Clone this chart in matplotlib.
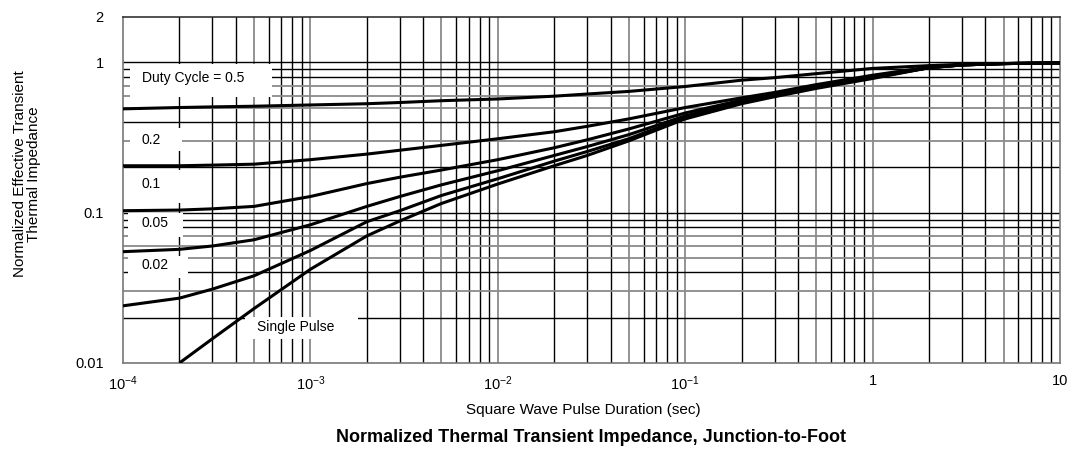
import matplotlib
matplotlib.use("Agg")
import matplotlib.pyplot as plt
from matplotlib.patches import Rectangle

plt.rcParams['font.family'] = ['Liberation Sans', 'DejaVu Sans']
plt.rcParams['mathtext.fontset'] = 'custom'
plt.rcParams['mathtext.rm'] = 'Liberation Sans'
plt.rcParams['mathtext.it'] = 'Liberation Sans:italic'

# ---- data ----
pulse_t = [1e-4, 2e-4, 3e-4, 5e-4, 1e-3, 2e-3, 3e-3, 5e-3, 1e-2, 2e-2, 3e-2, 5e-2,
           0.1, 0.2, 0.3, 0.5, 1, 2, 3, 5, 10]
z_d050 = [0.49, 0.50, 0.505, 0.51, 0.52, 0.53, 0.54, 0.555, 0.57, 0.595, 0.615, 0.64,
          0.69, 0.76, 0.79, 0.84, 0.91, 0.95, 0.97, 0.98, 0.99]
z_d020 = [0.205, 0.205, 0.207, 0.21, 0.225, 0.245, 0.26, 0.28, 0.31, 0.345, 0.375, 0.42,
          0.50, 0.58, 0.63, 0.71, 0.82, 0.93, 0.96, 0.98, 0.99]
z_d010 = [0.103, 0.104, 0.106, 0.11, 0.128, 0.156, 0.172, 0.192, 0.225, 0.27, 0.305, 0.36,
          0.46, 0.56, 0.62, 0.70, 0.80, 0.92, 0.96, 0.98, 0.99]
z_d005 = [0.055, 0.057, 0.06, 0.066, 0.083, 0.11, 0.128, 0.153, 0.19, 0.24, 0.275, 0.33,
          0.44, 0.55, 0.61, 0.69, 0.80, 0.92, 0.96, 0.98, 0.99]
z_d002 = [0.024, 0.027, 0.031, 0.038, 0.056, 0.087, 0.103, 0.13, 0.168, 0.22, 0.255, 0.31,
          0.43, 0.54, 0.60, 0.68, 0.79, 0.92, 0.96, 0.98, 0.99]
single_t = [2e-4, 3e-4, 5e-4, 1e-3, 2e-3, 3e-3, 5e-3, 1e-2, 2e-2, 3e-2, 5e-2,
            0.1, 0.2, 0.3, 0.5, 1, 2, 3, 5, 10]
z_single = [0.01, 0.0145, 0.023, 0.042, 0.07, 0.088, 0.115, 0.155, 0.205, 0.24, 0.30,
            0.42, 0.53, 0.59, 0.67, 0.78, 0.92, 0.96, 0.98, 0.99]

curve_labels = ["Duty Cycle = 0.5", "0.2", "0.1", "0.05", "0.02", "Single Pulse"]
x_tick_vals = [1e-4, 1e-3, 1e-2, 1e-1, 1, 10]
x_tick_text = [r"$10^{-4}$", r"$10^{-3}$", r"$10^{-2}$", r"$10^{-1}$", "1", "10"]
y_tick_vals = [0.01, 0.1, 1, 2]
y_tick_text = ["0.01", "0.1", "1", "2"]

W, H = 1075, 449
fig = plt.figure(figsize=(W / 100, H / 100), dpi=100)
L, R, T, B = 123, 1060, 17, 363
ax = fig.add_axes([L / W, 1 - B / H, (R - L) / W, (B - T) / H])
ax.set_xscale('log')
ax.set_yscale('log')
ax.set_xlim(1e-4, 10)
ax.set_ylim(0.01, 2)

# grid lines
black_mult_x = [2, 3, 4, 6, 7, 8, 9]
gray_mult_x = [1, 5]
for dec in [1e-4, 1e-3, 1e-2, 1e-1, 1]:
    for m in black_mult_x:
        ax.axvline(dec * m, color='black', lw=1.0, zorder=1)
    for m in gray_mult_x:
        if dec * m > 1e-4:
            ax.axvline(dec * m, color='#8a8a8a', lw=1.3, zorder=1)
black_mult_y = [1, 2, 4, 8, 9]
gray_mult_y = [3, 5, 6, 7]
for dec in [0.01, 0.1]:
    for m in black_mult_y:
        if dec * m > 0.01:
            ax.axhline(dec * m, color='black', lw=1.0, zorder=1)
    for m in gray_mult_y:
        ax.axhline(dec * m, color='#8a8a8a', lw=1.3, zorder=1)
ax.axhline(1, color='black', lw=1.0, zorder=1)

for s in ax.spines.values():
    s.set_color('#777777')
    s.set_linewidth(1.2)
ax.spines['top'].set_color('#333333')

# label boxes (axes fraction, from pixel layout)
def px_box(x0, x1, y0, y1):
    return ((x0 - L) / (R - L), (B - y1) / (B - T), (x1 - x0) / (R - L), (y1 - y0) / (B - T))

boxes = [px_box(130, 272, 64, 97), px_box(130, 182, 128, 151), px_box(130, 182, 170, 203),
         px_box(128, 183, 213, 237), px_box(128, 188, 256, 278), px_box(245, 358, 317, 339)]
text_pos = [(142, 78), (142, 140), (142, 184), (142, 223), (142, 265), (257, 327)]
for (bx, by, bw, bh), lab, (tx, ty) in zip(boxes, curve_labels, text_pos):
    ax.add_patch(Rectangle((bx, by), bw, bh, transform=ax.transAxes, facecolor='white',
                           edgecolor='none', zorder=2))
    ax.text((tx - L) / (R - L), (B - ty) / (B - T), lab, transform=ax.transAxes,
            ha='left', va='center', fontsize=10, zorder=3)

# curves
for z in [z_d050, z_d020, z_d010, z_d005, z_d002]:
    ax.plot(pulse_t, z, color='black', lw=2.2, zorder=4, solid_capstyle='butt')
ax.plot(single_t, z_single, color='black', lw=2.2, zorder=4, solid_capstyle='butt')

ax.set_xticks(x_tick_vals)
ax.set_xticklabels(x_tick_text, fontsize=10.5)
ax.set_yticks(y_tick_vals)
ax.set_yticklabels(y_tick_text, fontsize=10.5)
ax.minorticks_off()
ax.tick_params(axis='y', length=0, pad=14)
ax.tick_params(axis='x', length=0, pad=8)

fig.text(583 / W, 1 - 410 / H, "Square Wave Pulse Duration (sec)", fontsize=11,
         ha='center', va='center')
fig.text(27 / W, 1 - 174 / H, "Normalized Effective Transient\nThermal Impedance",
         fontsize=11, rotation=90, ha='center', va='center', linespacing=1.0,
         multialignment='center')
fig.text(591 / W, 1 - 437 / H, "Normalized Thermal Transient Impedance, Junction-to-Foot",
         ha='center', va='center', fontsize=13, fontweight='bold')

fig.savefig("out.png", dpi=100)
